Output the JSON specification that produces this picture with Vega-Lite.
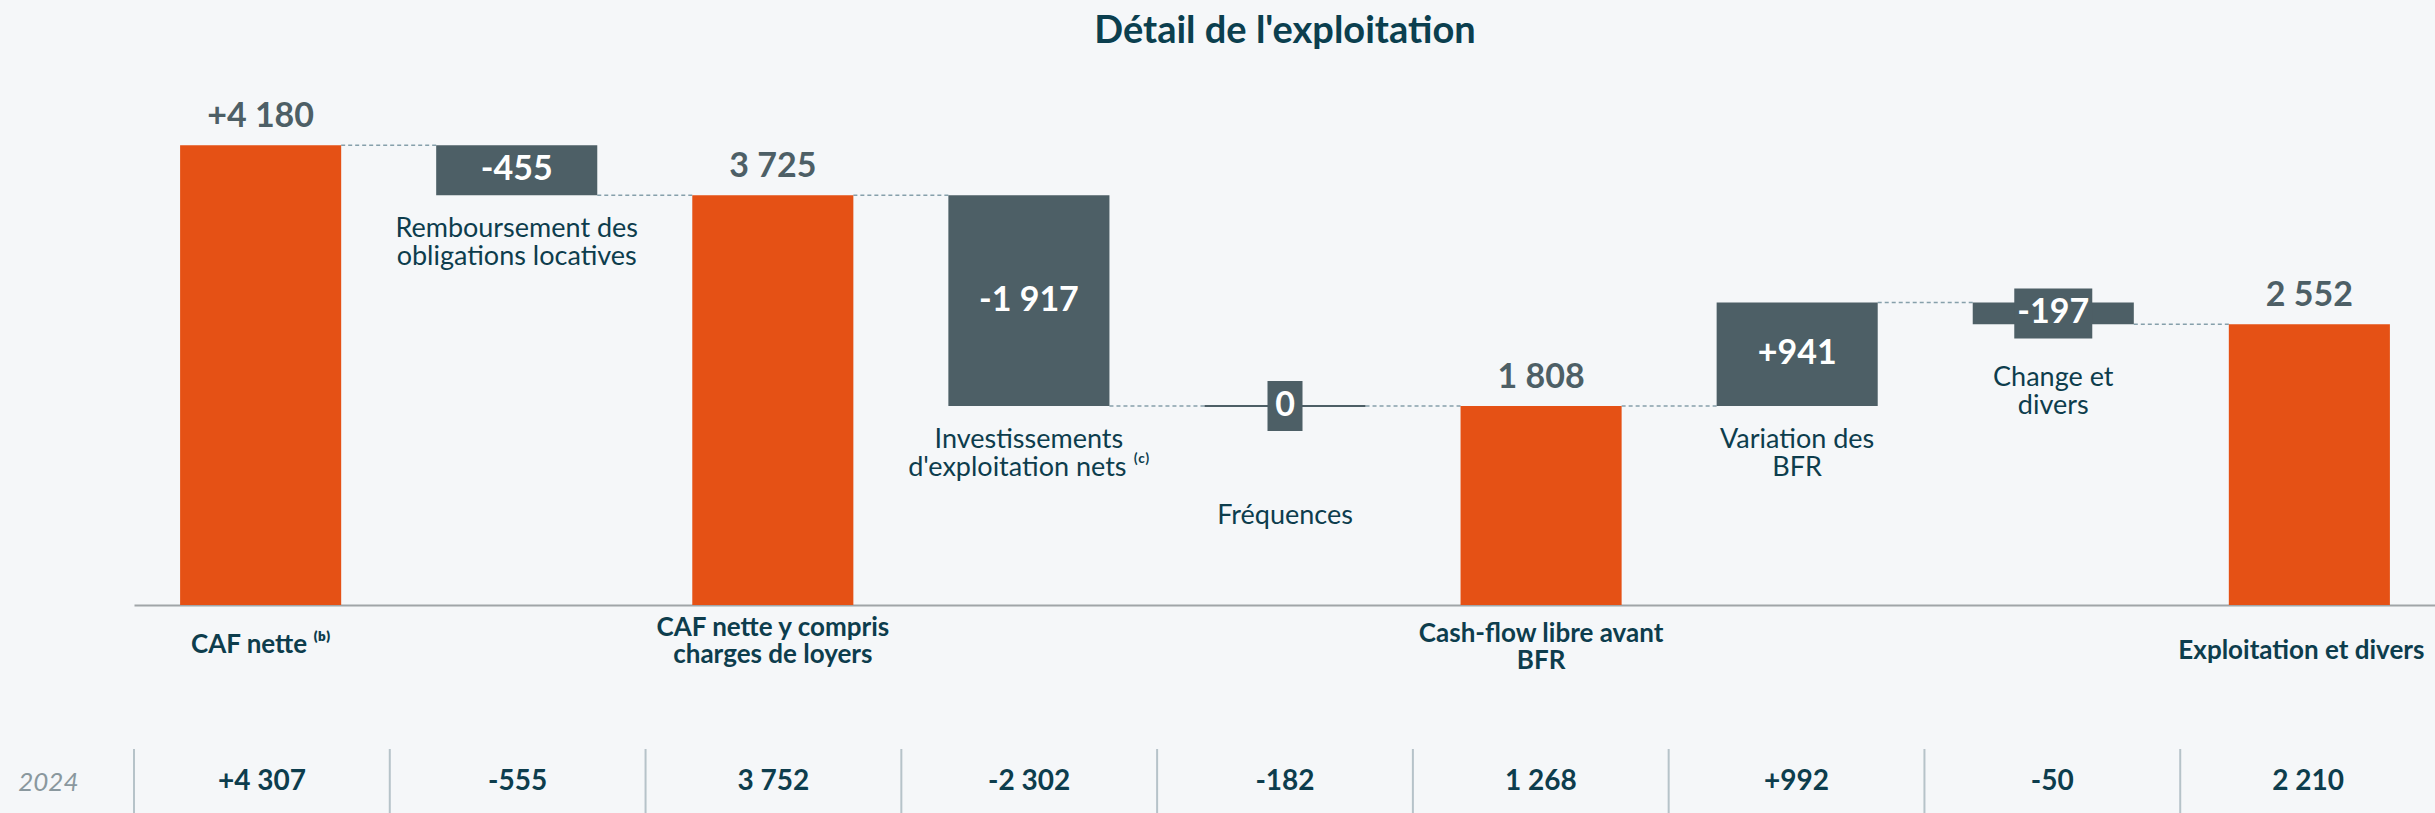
{
  "$schema": "https://vega.github.io/schema/vega-lite/v6.json",
  "background": "#f5f7f9",
  "padding": {"left": 17, "top": 13, "right": 0, "bottom": 0},
  "config": {"view": {"stroke": null}, "font": "Lato"},
  "datasets": {
    "flows": [
      {"cat": "CAF nette ⁽ᵇ⁾", "type": "total", "amount": 4180, "txt": "+4 180", "y2024": "+4 307"},
      {"cat": "Remboursement des|obligations locatives", "type": "delta", "amount": -455, "txt": "-455", "y2024": "-555"},
      {"cat": "CAF nette y compris|charges de loyers", "type": "total", "amount": 3725, "txt": "3 725", "y2024": "3 752"},
      {"cat": "Investissements|d'exploitation nets ⁽ᶜ⁾", "type": "delta", "amount": -1917, "txt": "-1 917", "y2024": "-2 302"},
      {"cat": "Fréquences", "type": "delta", "amount": 0, "txt": "0", "y2024": "-182"},
      {"cat": "Cash-flow libre avant|BFR", "type": "total", "amount": 1808, "txt": "1 808", "y2024": "1 268"},
      {"cat": "Variation des|BFR", "type": "delta", "amount": 941, "txt": "+941", "y2024": "+992"},
      {"cat": "Change et|divers", "type": "delta", "amount": -197, "txt": "-197", "y2024": "-50"},
      {"cat": "Exploitation et divers", "type": "total", "amount": 2552, "txt": "2 552", "y2024": "2 210"}
    ]
  },
  "bounds": "flush",
  "spacing": 144,
  "vconcat": [
    {
      "width": 2302,
      "height": 550,
      "title": {"text": "Détail de l'exploitation", "font": "Lato", "fontSize": 38, "fontWeight": "bold", "color": "#0b3f4f", "anchor": "middle", "offset": 4},
      "data": {"name": "flows"},
      "transform": [
        {"window": [{"op": "row_number", "as": "rn"}]},
        {"calculate": "datum.rn == 1 || datum.type == 'delta' ? datum.amount : 0", "as": "d"},
        {"window": [{"op": "sum", "field": "d", "as": "run"}], "sort": [{"field": "rn"}], "frame": [null, 0]},
        {"window": [{"op": "lead", "field": "cat", "as": "nextCat"}], "sort": [{"field": "rn"}]},
        {"calculate": "datum.run", "as": "end"},
        {"calculate": "datum.type == 'total' ? 0 : datum.run - datum.amount", "as": "start"},
        {"calculate": "(datum.start + datum.end) / 2", "as": "mid"},
        {"calculate": "min(datum.start, datum.end)", "as": "lo"},
        {"calculate": "split(datum.cat, '|')", "as": "lines"}
      ],
      "encoding": {
        "x": {
          "field": "cat", "type": "nominal",
          "scale": {
            "domain": ["CAF nette ⁽ᵇ⁾", "Remboursement des|obligations locatives", "CAF nette y compris|charges de loyers", "Investissements|d'exploitation nets ⁽ᶜ⁾", "Fréquences", "Cash-flow libre avant|BFR", "Variation des|BFR", "Change et|divers", "Exploitation et divers"],
            "paddingInner": 0.371, "paddingOuter": 0.18
          },
          "axis": {"title": null, "labels": false, "ticks": false, "domainColor": "#a0a5a8", "domainWidth": 2}
        }
      },
      "layer": [
        {
          "transform": [{"filter": "datum.nextCat != null"}],
          "mark": {"type": "rule", "color": "#86a0ab", "strokeDash": [4, 3], "strokeWidth": 1.5},
          "encoding": {
            "x": {"field": "cat", "type": "nominal", "bandPosition": 1},
            "x2": {"field": "nextCat", "bandPosition": 0},
            "y": {"field": "end", "type": "quantitative", "axis": null}
          }
        },
        {
          "mark": {"type": "bar"},
          "encoding": {
            "y": {"field": "start", "type": "quantitative", "scale": {"domain": [0, 5000], "nice": false}, "axis": null},
            "y2": {"field": "end"},
            "color": {"condition": {"test": "datum.type == 'total'", "value": "#e55115"}, "value": "#4d5f66"}
          }
        },
        {
          "transform": [{"filter": "datum.cat == 'Fréquences'"}],
          "mark": {"type": "tick", "color": "#4d5f66", "thickness": 2, "size": 161, "opacity": 1},
          "encoding": {"y": {"field": "end", "type": "quantitative", "axis": null}}
        },
        {
          "transform": [{"filter": "datum.cat == 'Fréquences'"}],
          "mark": {"type": "point", "shape": "M-0.35,-0.5L0.35,-0.5L0.35,0.5L-0.35,0.5Z", "size": 10000, "filled": true, "color": "#4d5f66", "opacity": 1},
          "encoding": {"y": {"field": "mid", "type": "quantitative", "axis": null}}
        },
        {
          "transform": [{"filter": "datum.cat == 'Change et|divers'"}],
          "mark": {"type": "point", "shape": "M-0.78,-0.5L0.78,-0.5L0.78,0.5L-0.78,0.5Z", "size": 10000, "filled": true, "color": "#4d5f66", "opacity": 1},
          "encoding": {"y": {"field": "mid", "type": "quantitative", "axis": null}}
        },
        {
          "transform": [{"filter": "datum.type == 'delta'"}],
          "mark": {"type": "text", "font": "Lato", "fontSize": 34, "fontWeight": "bold", "color": "#ffffff", "baseline": "middle"},
          "encoding": {"y": {"field": "mid", "type": "quantitative", "axis": null}, "text": {"field": "txt"}}
        },
        {
          "transform": [{"filter": "datum.type == 'total'"}],
          "mark": {"type": "text", "font": "Lato", "fontSize": 34, "fontWeight": "bold", "color": "#4d5f66", "baseline": "middle", "dy": -28},
          "encoding": {"y": {"field": "end", "type": "quantitative", "axis": null}, "text": {"field": "txt"}}
        },
        {
          "transform": [{"filter": "datum.type == 'delta' && datum.cat != 'Fréquences' && datum.cat != 'Change et|divers'"}],
          "mark": {"type": "text", "font": "Lato", "fontSize": 27, "color": "#0d3d4d", "baseline": "top", "dy": 21, "lineHeight": 28},
          "encoding": {"y": {"field": "lo", "type": "quantitative", "axis": null}, "text": {"field": "lines"}}
        },
        {
          "transform": [{"filter": "datum.cat == 'Fréquences'"}],
          "mark": {"type": "text", "font": "Lato", "fontSize": 27, "color": "#0d3d4d", "baseline": "top", "dy": 97, "lineHeight": 28},
          "encoding": {"y": {"field": "lo", "type": "quantitative", "axis": null}, "text": {"field": "lines"}}
        },
        {
          "transform": [{"filter": "datum.cat == 'Change et|divers'"}],
          "mark": {"type": "text", "font": "Lato", "fontSize": 27, "color": "#0d3d4d", "baseline": "top", "dy": 41, "lineHeight": 28},
          "encoding": {"y": {"field": "lo", "type": "quantitative", "axis": null}, "text": {"field": "lines"}}
        },
        {
          "transform": [{"filter": "datum.cat == 'CAF nette ⁽ᵇ⁾'"}],
          "mark": {"type": "text", "font": "Lato", "fontSize": 26, "fontWeight": "bold", "color": "#0d3d4d", "baseline": "middle", "dy": 40, "lineHeight": 27},
          "encoding": {"y": {"datum": 0, "type": "quantitative", "axis": null}, "text": {"field": "lines"}}
        },
        {
          "transform": [{"filter": "datum.cat == 'CAF nette y compris|charges de loyers'"}],
          "mark": {"type": "text", "font": "Lato", "fontSize": 26, "fontWeight": "bold", "color": "#0d3d4d", "baseline": "middle", "dy": 23, "lineHeight": 27},
          "encoding": {"y": {"datum": 0, "type": "quantitative", "axis": null}, "text": {"field": "lines"}}
        },
        {
          "transform": [{"filter": "datum.cat == 'Cash-flow libre avant|BFR'"}],
          "mark": {"type": "text", "font": "Lato", "fontSize": 26, "fontWeight": "bold", "color": "#0d3d4d", "baseline": "middle", "dy": 29, "lineHeight": 27},
          "encoding": {"y": {"datum": 0, "type": "quantitative", "axis": null}, "text": {"field": "lines"}}
        },
        {
          "transform": [{"filter": "datum.cat == 'Exploitation et divers'"}],
          "mark": {"type": "text", "font": "Lato", "fontSize": 26, "fontWeight": "bold", "color": "#0d3d4d", "baseline": "middle", "dy": 46, "lineHeight": 27, "dx": -8},
          "encoding": {"y": {"datum": 0, "type": "quantitative", "axis": null}, "text": {"field": "lines"}}
        }
      ]
    },
    {
      "width": 2302,
      "height": 66,
      "data": {"name": "flows"},
      "encoding": {
        "x": {"field": "cat", "type": "nominal", "sort": null, "scale": {"paddingInner": 0, "paddingOuter": 0}, "axis": null}
      },
      "layer": [
        {
          "mark": {"type": "rule", "color": "#b6c3c9", "strokeWidth": 2},
          "encoding": {"x": {"field": "cat", "type": "nominal", "sort": null, "bandPosition": 0}}
        },
        {
          "mark": {"type": "text", "font": "Lato", "fontSize": 28, "fontWeight": "bold", "color": "#0d3d4d", "baseline": "middle"},
          "encoding": {
            "y": {"datum": "2024", "type": "nominal", "axis": {"title": null, "domain": false, "ticks": false, "labelPadding": 56, "labelFont": "Lato", "labelFontSize": 26, "labelFontStyle": "italic", "labelColor": "#8a989e"}},
            "text": {"field": "y2024"}
          }
        }
      ]
    }
  ]
}
